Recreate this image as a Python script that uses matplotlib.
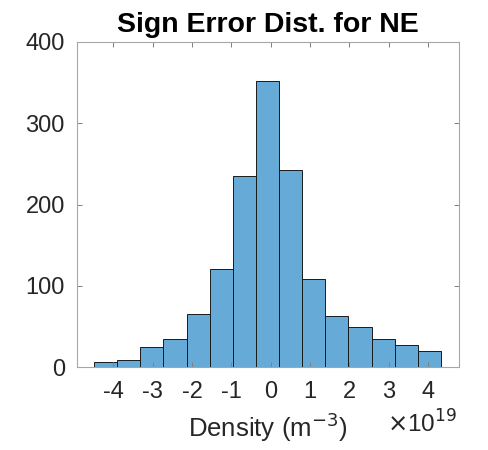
import numpy as np
import matplotlib
matplotlib.use('Agg')
import matplotlib.pyplot as plt

# Histogram of sign error for NE (x in units of 1e19 m^-3)
bin_edges = [-4.50, -3.91, -3.32, -2.73, -2.14, -1.55, -0.97, -0.38,
             0.21, 0.80, 1.39, 1.98, 2.57, 3.16, 3.75, 4.33]
counts = [7, 9, 25, 35, 66, 121, 235, 352, 242, 109, 63, 49, 35, 28, 20]
xticks = [-4, -3, -2, -1, 0, 1, 2, 3, 4]
yticks = [0, 100, 200, 300, 400]

plt.rcParams['font.family'] = ['Liberation Sans', 'DejaVu Sans']
fig = plt.figure(figsize=(4.89, 4.5), dpi=100)
ax = fig.add_axes([77.3 / 489, 1 - 367.3 / 450, (459.3 - 77.3) / 489, (367.3 - 41.7) / 450])

edges = np.array(bin_edges)
ax.bar(edges[:-1], counts, width=np.diff(edges), align='edge',
       color='#66AAD7', edgecolor='#1a1a1a', linewidth=0.7)

ax.set_xlim(-4.92, 4.80)
ax.set_ylim(0, 400)
ax.set_xticks(xticks)
ax.set_xticklabels([str(t) for t in xticks])
ax.set_yticks(yticks)

for s in ax.spines.values():
    s.set_color('#a6a6a6')
    s.set_linewidth(0.8)
ax.tick_params(direction='in', length=3.5, width=0.7, color='#808080',
               top=True, right=True, labelsize=17, labelcolor='#262626')
ax.tick_params(axis='x', pad=10)
ax.tick_params(axis='y', pad=9)

ax.set_title('Sign Error Dist. for NE', fontsize=20.5, fontweight='bold', pad=7)
ax.set_xlabel('Density (m$^{-3}$)', fontsize=18.5, color='#262626', labelpad=5)
fig.text(457 / 489, 1 - 433 / 450, r'$\times$10$^{19}$', fontsize=17.5,
         color='#262626', ha='right', va='baseline')

plt.savefig('out.png', dpi=100)
